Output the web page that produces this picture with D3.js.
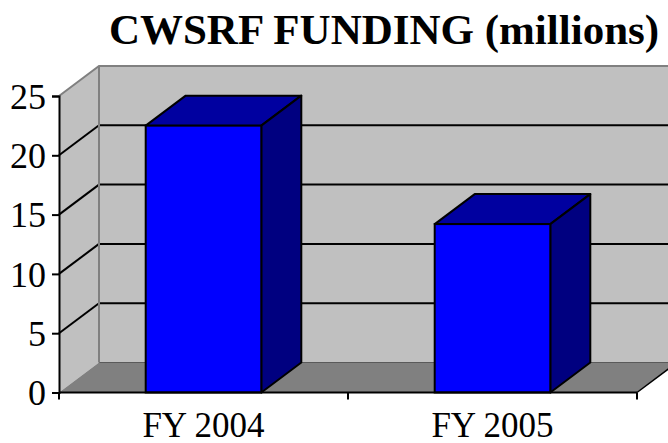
<!DOCTYPE html>
<html>
<head>
<meta charset="utf-8">
<script src="https://cdn.jsdelivr.net/npm/d3@7"></script>
<style>
  html, body { margin: 0; padding: 0; background: #fff; }
  svg { display: block; }
  text { font-family: "Liberation Serif", "Times New Roman", serif; fill: #000; }
</style>
</head>
<body>
<svg id="chart" width="668" height="443"></svg>
<script>
// ---- data ----
const title = "CWSRF FUNDING (millions)";
const categories = ["FY 2004", "FY 2005"];
const values = [22.5, 14.2];
const yTicks = [0, 5, 10, 15, 20, 25];

// ---- layout ----
const W = 668, H = 443;
const left = 59, right = 637, floorY = 392.5, topY = 96;
const DX = 40, DY = -30; // depth offset

const svg = d3.select("#chart");
const x = d3.scaleBand().domain(categories).range([left, right]).padding(0);
const y = d3.scaleLinear().domain([0, 25]).range([floorY, topY]);

const line = d3.line();

// side wall
svg.append("path")
  .attr("d", line([[left, y(25)], [left + DX, y(25) + DY], [left + DX, y(0) + DY], [left, y(0)]]) + "Z")
  .attr("fill", "#c0c0c0");
// back wall
svg.append("rect")
  .attr("x", left + DX).attr("y", y(25) + DY)
  .attr("width", right - left + 10).attr("height", y(0) - y(25))
  .attr("fill", "#c0c0c0");
// floor
svg.append("path")
  .attr("d", line([[left, y(0)], [right, y(0)], [right + DX, y(0) + DY], [left + DX, y(0) + DY]]) + "Z")
  .attr("fill", "#808080");
// floor back edge
svg.append("line")
  .attr("x1", left + DX).attr("x2", right + DX)
  .attr("y1", y(0) + DY).attr("y2", y(0) + DY)
  .attr("stroke", "#5a5a5a").attr("stroke-width", 1);

// gridlines
const grid = yTicks.filter(t => t > 0 && t < 25);
svg.selectAll(".gback").data(grid).join("line")
  .attr("x1", left + DX).attr("x2", W + 20)
  .attr("y1", d => y(d) + DY).attr("y2", d => y(d) + DY)
  .attr("stroke", "#000").attr("stroke-width", 2);
svg.selectAll(".gside").data(grid).join("line")
  .attr("x1", left).attr("x2", left + DX)
  .attr("y1", d => y(d)).attr("y2", d => y(d) + DY)
  .attr("stroke", "#000").attr("stroke-width", 2);

// wall edges (gray)
svg.append("path")
  .attr("d", line([[left, y(25)], [left + DX, y(25) + DY], [W + 20, y(25) + DY]]))
  .attr("fill", "none").attr("stroke", "#808080").attr("stroke-width", 2);
svg.append("line")
  .attr("x1", left + DX).attr("x2", left + DX)
  .attr("y1", y(25) + DY).attr("y2", y(0) + DY)
  .attr("stroke", "#808080").attr("stroke-width", 2);

// floor right edge
svg.append("line")
  .attr("x1", right).attr("y1", y(0))
  .attr("x2", right + DX).attr("y2", y(0) + DY)
  .attr("stroke", "#000").attr("stroke-width", 1.5);

// bars
const bw = x.bandwidth() * 0.4;
const bars = svg.selectAll(".bar").data(categories.map((c, i) => ({ c, v: values[i] }))).join("g");
bars.each(function(d) {
  const g = d3.select(this);
  const x0 = x(d.c) + x.bandwidth() * 0.3, x1 = x0 + bw;
  const yv = y(d.v), y0 = y(0);
  g.append("path")
    .attr("d", line([[x0, yv], [x0 + DX, yv + DY], [x1 + DX, yv + DY], [x1, yv]]) + "Z")
    .attr("fill", "#0000a0").attr("stroke", "#000").attr("stroke-width", 2).attr("stroke-linejoin", "round");
  g.append("path")
    .attr("d", line([[x1, yv], [x1 + DX, yv + DY], [x1 + DX, y0 + DY], [x1, y0]]) + "Z")
    .attr("fill", "#000080").attr("stroke", "#000").attr("stroke-width", 2).attr("stroke-linejoin", "round");
  g.append("rect")
    .attr("x", x0).attr("y", yv).attr("width", bw).attr("height", y0 - yv)
    .attr("fill", "#0000ff").attr("stroke", "#000").attr("stroke-width", 2);
});

// y axis
const yAxis = d3.axisLeft(y).tickValues(yTicks).tickSize(7).tickPadding(6).tickFormat(d3.format("d"));
const ya = svg.append("g").attr("transform", `translate(${left},0)`).call(yAxis);
ya.select(".domain").attr("stroke", "#000").attr("stroke-width", 2);
ya.selectAll(".tick line").attr("stroke", "#000").attr("stroke-width", 2);
ya.selectAll(".tick text")
  .style("font-family", '"Liberation Serif", "Times New Roman", serif')
  .style("font-size", "36px").attr("fill", "#000").attr("dy", "0.34em").attr("x", -13);

// x axis line
svg.append("line")
  .attr("x1", left).attr("x2", right).attr("y1", y(0)).attr("y2", y(0))
  .attr("stroke", "#000").attr("stroke-width", 2);
const bounds = categories.map(c => x(c)).concat([x(categories[categories.length - 1]) + x.bandwidth()]);
svg.selectAll(".xtick").data(bounds).join("line")
  .attr("x1", d => d).attr("x2", d => d)
  .attr("y1", y(0)).attr("y2", y(0) + 7)
  .attr("stroke", "#000").attr("stroke-width", 2);
svg.selectAll(".xlab").data(categories).join("text")
  .attr("x", d => x(d) + x.bandwidth() / 2)
  .attr("y", 437)
  .attr("text-anchor", "middle")
  .style("font-size", "35px")
  .text(d => d);

// title
svg.append("text")
  .attr("x", 384).attr("y", 44)
  .attr("text-anchor", "middle")
  .style("font-size", "43px").style("font-weight", "bold")
  .text(title);
</script>
</body>
</html>
